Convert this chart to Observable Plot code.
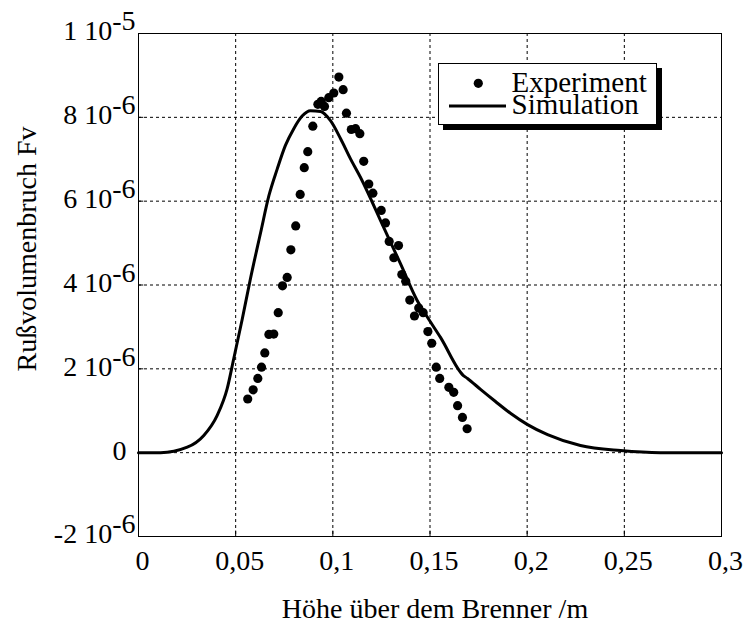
<!DOCTYPE html>
<html>
<head>
<meta charset="utf-8">
<script src="https://cdn.jsdelivr.net/npm/d3@7"></script>
<script src="https://cdn.jsdelivr.net/npm/@observablehq/plot@0.6"></script>
<style>
  html, body { margin: 0; padding: 0; background: #fff; }
  #wrap { position: relative; width: 746px; height: 626px; font-family: "Liberation Serif", "Times New Roman", serif; }
  #legend { position: absolute; left: 438px; top: 63px; width: 219px; height: 62px; box-sizing: border-box;
            border: 1px solid #000; background: #fff; box-shadow: 5px 5px 0 #000; }
  #legend svg { position: absolute; left: -1px; top: -1px; }
</style>
</head>
<body>
<div id="wrap"><div id="chart"></div>
  <div id="legend">
    <svg width="219" height="62" font-family="Liberation Serif, Times New Roman, serif" font-size="29">
      <circle cx="40.3" cy="20.3" r="4.6" fill="#000"></circle>
      <line x1="11" y1="43" x2="68" y2="43" stroke="#000" stroke-width="3"></line>
      <text x="73.5" y="28.5">Experiment</text>
      <text x="73.5" y="50.5">Simulation</text>
    </svg>
  </div>
</div>
<script>
// Experiment: height above burner (m), soot volume fraction (units of 1e-6)
const expX = [0.0562,0.0590,0.0614,0.0633,0.0650,0.0671,0.0696,0.0719,0.0741,0.0765,0.0784,0.0809,0.0832,0.0853,0.0871,0.0897,0.0923,0.0940,0.0957,0.0979,0.1005,0.1031,0.1053,0.1070,0.1095,0.1117,0.1139,0.1159,0.1185,0.1206,0.1249,0.1271,0.1290,0.1314,0.1338,0.1355,0.1375,0.1396,0.1420,0.1442,0.1465,0.1489,0.1509,0.1532,0.1550,0.1597,0.1622,0.1642,0.1667,0.1691];
const expY = [1.28,1.50,1.77,2.04,2.38,2.82,2.83,3.34,3.98,4.18,4.84,5.41,6.16,6.80,7.18,7.79,8.31,8.38,8.26,8.47,8.58,8.96,8.66,8.10,7.71,7.73,7.61,6.95,6.41,6.19,5.78,5.48,5.04,4.65,4.94,4.25,4.09,3.64,3.26,3.45,3.34,2.89,2.61,2.04,1.77,1.56,1.44,1.12,0.84,0.57];
// Simulation
const simX = [0,0.0113,0.0251,0.0336,0.0405,0.0456,0.0490,0.0534,0.0576,0.0628,0.0671,0.0714,0.0756,0.0799,0.0842,0.0885,0.0937,0.0988,0.1040,0.1091,0.1142,0.1261,0.1348,0.1434,0.1487,0.1554,0.1672,0.1693,0.1760,0.1837,0.1914,0.2002,0.2105,0.2274,0.2480,0.2686,0.3];
const simY = [0,0,0.13,0.41,0.89,1.52,2.24,3.19,4.15,5.24,6.13,6.77,7.33,7.73,8.03,8.16,8.14,7.92,7.49,7.01,6.57,5.38,4.51,3.63,3.23,2.75,1.84,1.77,1.51,1.22,0.94,0.67,0.43,0.17,0.05,0,0];

const xTicks = [0,0.05,0.1,0.15,0.2,0.25,0.3];
const xTickLabels = ["0","0,05","0,1","0,15","0,2","0,25","0,3"];
const yTicks = [-2e-6,0,2e-6,4e-6,6e-6,8e-6,1e-5];
const yTickLabels = ["-2 10^-6","0","2 10^-6","4 10^-6","6 10^-6","8 10^-6","1 10^-5"];
const xGrid = [0.05,0.1,0.15,0.2,0.25];
const yGrid = [0,2e-6,4e-6,6e-6,8e-6];
const xTitle = "Höhe über dem Brenner /m";
const yTitle = "Rußvolumenbruch Fv";

const expData = expX.map((x, i) => ({x, y: expY[i] * 1e-6}));
const simData = simX.map((x, i) => ({x, y: simY[i] * 1e-6}));

const chart = Plot.plot({
  width: 746,
  height: 626,
  marginLeft: 138,
  marginRight: 25,
  marginTop: 33,
  marginBottom: 90,
  style: {fontFamily: "Liberation Serif, Times New Roman, serif", fontSize: "28px", color: "#000", background: "#fff"},
  x: {domain: [0, 0.3]},
  y: {domain: [-2e-6, 1e-5]},
  marks: [
    Plot.gridX(xGrid, {stroke: "#000", strokeOpacity: 1, strokeDasharray: "3,3", strokeWidth: 1}),
    Plot.gridY(yGrid, {stroke: "#000", strokeOpacity: 1, strokeDasharray: "3,3", strokeWidth: 1}),
    Plot.ruleX(xGrid, {x: d => d, y1: -2e-6, y2: -1.87e-6, stroke: "#000"}),
    Plot.ruleY(yGrid, {y: d => d, x1: 0, x2: 0.0027, stroke: "#000"}),
    Plot.frame({stroke: "#000", strokeWidth: 1}),
    Plot.axisX({ticks: xTicks, tickSize: 0, tickPadding: 14, dx: 4,
      tickFormat: d => xTickLabels[xTicks.findIndex(t => Math.abs(t - d) < 1e-9)], label: null}),
    Plot.axisY({ticks: yTicks, tickSize: 0, tickPadding: 3, dy: -2,
      tickFormat: d => yTickLabels[yTicks.findIndex(t => Math.abs(t - d) < 1e-12)], label: null}),
    Plot.line(simData, {x: "x", y: "y", stroke: "#000", strokeWidth: 3, curve: "monotone-x"}),
    Plot.dot(expData, {x: "x", y: "y", r: 4.6, fill: "#000", stroke: "none"}),
    Plot.text([xTitle], {frameAnchor: "bottom", textAnchor: "middle", lineAnchor: "bottom", dy: 81, dx: 5, text: d => d, fontSize: 28}),
    Plot.text([yTitle], {frameAnchor: "left", textAnchor: "middle", rotate: -90, lineAnchor: "bottom", dx: -103, dy: -36, text: d => d, fontSize: 28})
  ]
});

// superscript exponents on y tick labels
chart.querySelectorAll('g[aria-label="y-axis tick label"] text').forEach(t => {
  const s = t.textContent;
  const parts = s.split("^");
  if (parts.length === 2) {
    t.textContent = "";
    const a = document.createElementNS("http://www.w3.org/2000/svg", "tspan");
    a.textContent = parts[0];
    const b = document.createElementNS("http://www.w3.org/2000/svg", "tspan");
    b.textContent = parts[1];
    b.setAttribute("dy", "-0.36em");
    t.appendChild(a); t.appendChild(b);
  } else {
    t.setAttribute("dx", "-9");
  }
});

document.getElementById("chart").appendChild(chart);
</script>
</body>
</html>
